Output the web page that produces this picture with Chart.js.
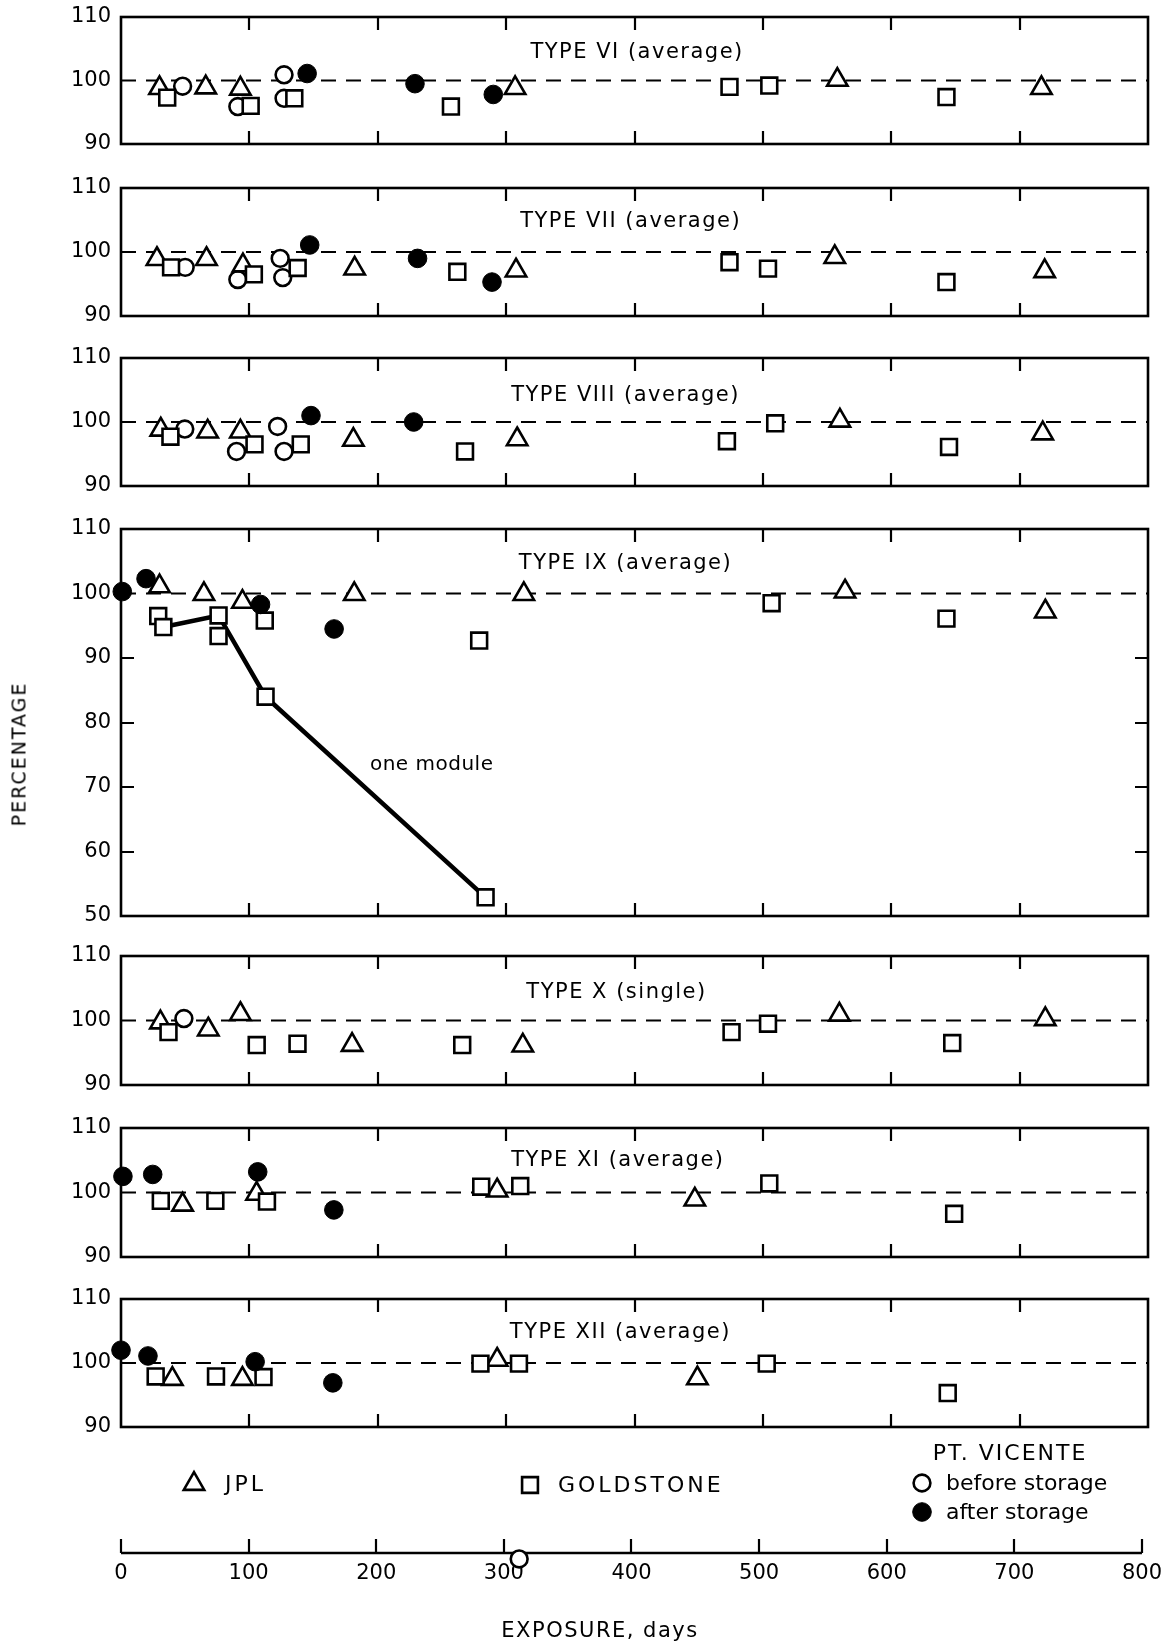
<!DOCTYPE html>
<html><head><meta charset="utf-8">
<script src="https://cdn.jsdelivr.net/npm/chart.js@4/dist/chart.umd.min.js"></script>
<style>
html,body{margin:0;padding:0;background:#fff;}
#page{position:relative;width:1170px;height:1642px;overflow:hidden;background:#fff;font-family:'DejaVu Sans',sans-serif;color:#000;}
#page canvas{position:absolute;left:0;}
.t{position:absolute;white-space:nowrap;line-height:1;}
</style></head><body><div id="page"></div>
<script>
// ---------------- DATA ----------------
const X_TICKS = [0,100,200,300,400,500,600,700,800];
const X_TICK_LABELS = ['0','100','200','300','400','500','600','700','800'];
const PANEL_TITLES = ['TYPE VI (average)','TYPE VII (average)','TYPE VIII (average)','TYPE IX (average)','TYPE X (single)','TYPE XI (average)','TYPE XII (average)'];
const SERIES_NAMES = ['JPL','GOLDSTONE','before storage','after storage'];
const Y_LABEL = 'PERCENTAGE';
const X_LABEL = 'EXPOSURE, days';
const LINE_LABEL = 'one module';

const VI_JPL    = [[30,98.8],[66,98.9],[93,98.7],[307,98.8],[558,100.1],[717,98.8]];
const VI_GOLD   = [[36,97.3],[101,96.0],[135,97.2],[257,95.9],[474,99.0],[505,99.2],[643,97.4]];
const VI_BEFORE = [[48,99.1],[91,95.9],[127,100.9],[127,97.2]];
const VI_AFTER  = [[145,101.1],[229,99.5],[290,97.8]];

const VII_JPL    = [[28,98.9],[66.6,98.9],[95,97.9],[182,97.4],[307.7,97.1],[556,99.2],[719.5,97.0]];
const VII_GOLD   = [[39,97.6],[103.5,96.5],[137.6,97.5],[262,96.9],[474,98.4],[504,97.4],[643,95.3]];
const VII_BEFORE = [[50,97.6],[91,95.7],[124,99.0],[126,96.0]];
const VII_AFTER  = [[147,101.1],[231,99.0],[289,95.3]];

const VIII_JPL    = [[31,98.8],[67.5,98.5],[93,98.5],[181,97.2],[308.6,97.3],[560,100.2],[718,98.2]];
const VIII_GOLD   = [[38.5,97.7],[104,96.5],[140,96.5],[268,95.4],[472,97.0],[509.6,99.8],[645,96.1]];
const VIII_BEFORE = [[49.7,98.9],[90,95.4],[122,99.3],[127,95.4]];
const VIII_AFTER  = [[148,101.0],[228,100.0]];

const IX_JPL    = [[30,101.1],[64.6,99.9],[94.6,98.7],[181.7,99.9],[313.8,99.9],[564,100.3],[720,97.2]];
const IX_GOLD   = [[29,96.5],[33,94.8],[76,96.6],[76,93.4],[112,95.8],[112.6,84.0],[279,92.7],[284,52.9],[506.8,98.5],[643,96.1]];
const IX_AFTER  = [[1,100.3],[19.5,102.3],[108.7,98.3],[166,94.5]];
const IX_ONE_MODULE = [[33,94.8],[76,96.6],[112.6,84.0],[284,52.9]];

const X_JPL    = [[30.7,99.7],[68,98.6],[93,101.0],[180,96.2],[313,96.1],[559.6,100.9],[720,100.2]];
const X_GOLD   = [[37,98.2],[105.7,96.2],[137.5,96.4],[265.8,96.2],[475.6,98.2],[504,99.5],[647.5,96.5]];
const X_BEFORE = [[49,100.3]];

const XI_JPL   = [[48,98.1],[105.6,99.8],[293,100.3],[447,98.9]];
const XI_GOLD  = [[31,98.7],[73.5,98.7],[113.7,98.6],[280.6,100.9],[311,101.0],[505,101.4],[649,96.7]];
const XI_AFTER = [[1.5,102.5],[24.7,102.8],[106.5,103.2],[165.8,97.3]];

const XII_JPL   = [[40,97.5],[94.6,97.5],[293,100.5],[449,97.6]];
const XII_GOLD  = [[27,97.9],[74,97.9],[111,97.8],[280,99.9],[310,99.9],[503,99.9],[644,95.3]];
const XII_AFTER = [[0,102.0],[21,101.1],[104.5,100.2],[165,96.9]];

const AXIS_STRAY_BEFORE = [[312,-0.18]];
const REFERENCE_LEVEL = 100;

// ---------------- LAYOUT ----------------
const PLOT_LEFT = 121, PLOT_RIGHT = 1148, W = 1170;
const FONT = "'DejaVu Sans', sans-serif";
const panels = [
  {title:0, top:17,  bottom:144, yMin:90, yMax:110, jpl:VI_JPL,  gold:VI_GOLD,  before:VI_BEFORE,  after:VI_AFTER,  tAt:[402,104.4]},
  {title:1, top:188, bottom:316, yMin:90, yMax:110, jpl:VII_JPL, gold:VII_GOLD, before:VII_BEFORE, after:VII_AFTER, tAt:[397,104.7]},
  {title:2, top:358, bottom:486, yMin:90, yMax:110, jpl:VIII_JPL,gold:VIII_GOLD,before:VIII_BEFORE,after:VIII_AFTER,tAt:[393,104.2]},
  {title:3, top:529, bottom:916, yMin:50, yMax:110, jpl:IX_JPL,  gold:IX_GOLD,  after:IX_AFTER, line:IX_ONE_MODULE, tAt:[393,104.6], yTicks:[60,70,80,90], lineLabelAt:[242,73.4]},
  {title:4, top:956, bottom:1085,yMin:90, yMax:110, jpl:X_JPL,   gold:X_GOLD,   before:X_BEFORE, tAt:[386,104.4]},
  {title:5, top:1128,bottom:1257,yMin:90, yMax:110, jpl:XI_JPL,  gold:XI_GOLD,  after:XI_AFTER, tAt:[387,104.9]},
  {title:6, top:1299,bottom:1427,yMin:90, yMax:110, jpl:XII_JPL, gold:XII_GOLD, after:XII_AFTER,tAt:[389,104.8]}
];

const MK = {
  jpl:    {pointStyle:'triangle', pointRadius:11.8, pointBackgroundColor:'#fff', pointBorderColor:'#000', pointBorderWidth:2.6},
  gold:   {pointStyle:'rect',     pointRadius:11.2, pointBackgroundColor:'#fff', pointBorderColor:'#000', pointBorderWidth:2.6},
  before: {pointStyle:'circle',   pointRadius:8.4,  pointBackgroundColor:'#fff', pointBorderColor:'#000', pointBorderWidth:2.6},
  after:  {pointStyle:'circle',   pointRadius:9.3,  pointBackgroundColor:'#000', pointBorderColor:'#000', pointBorderWidth:1}
};

const page = document.getElementById('page');
const toPts = a => a.map(([x,y]) => ({x,y}));

function scatterDs(arr, mk, order, label) {
  return Object.assign({label, data: toPts(arr), order, clip:false, showLine:false,
    pointHoverRadius: mk.pointRadius, pointHoverBorderWidth: mk.pointBorderWidth}, mk);
}

function framePlugin(p) {
  return {
    id:'frame'+p.title,
    beforeDatasetsDraw(chart) {
      const {ctx, chartArea:a, scales:{x,y}} = chart;
      ctx.save();
      ctx.strokeStyle='#000';
      ctx.lineWidth=2.6;
      ctx.strokeRect(a.left, a.top, a.right-a.left, a.bottom-a.top);
      ctx.lineWidth=2.2;
      ctx.beginPath();
      for (const v of X_TICKS.slice(1,-1)) {
        const px = Math.round(x.getPixelForValue(v));
        ctx.moveTo(px,a.top); ctx.lineTo(px,a.top+13);
        ctx.moveTo(px,a.bottom); ctx.lineTo(px,a.bottom-13);
      }
      for (const v of (p.yTicks||[])) {
        const py = Math.round(y.getPixelForValue(v));
        ctx.moveTo(a.left,py); ctx.lineTo(a.left+13,py);
        ctx.moveTo(a.right,py); ctx.lineTo(a.right-13,py);
      }
      ctx.stroke();
      ctx.fillStyle='#000';
      ctx.textAlign='center'; ctx.textBaseline='middle';
      ctx.font = '21px ' + FONT;
      try { ctx.letterSpacing = '1.5px'; } catch(e) {}
      ctx.fillText(PANEL_TITLES[p.title], x.getPixelForValue(p.tAt[0]), y.getPixelForValue(p.tAt[1]));
      if (p.lineLabelAt) {
        try { ctx.letterSpacing = '0.5px'; } catch(e) {}
        ctx.font = '20px ' + FONT;
        ctx.fillText(LINE_LABEL, x.getPixelForValue(p.lineLabelAt[0]), y.getPixelForValue(p.lineLabelAt[1]));
      }
      ctx.restore();
    }
  };
}

function makePanel(p) {
  const PAD = 24;
  const h = p.bottom - p.top + 2*PAD;
  const cv = document.createElement('canvas');
  cv.width = W; cv.height = h;
  cv.style.top = (p.top - PAD) + 'px';
  cv.style.width = W+'px'; cv.style.height = h+'px';
  page.appendChild(cv);
  const ds = [];
  ds.push({label:'ref', data:[{x:0,y:REFERENCE_LEVEL},{x:800,y:REFERENCE_LEVEL}], showLine:true, borderColor:'#000', borderWidth:2.2, borderDash:[15,10], pointRadius:0, pointHoverRadius:0, order:40, clip:false});
  if (p.line) ds.push({label:LINE_LABEL, data:toPts(p.line), showLine:true, borderColor:'#000', borderWidth:4.5, pointRadius:0, pointHoverRadius:0, order:30, tension:0, clip:false});
  if (p.before) ds.push(scatterDs(p.before, MK.before, 4, SERIES_NAMES[2]));
  if (p.jpl) ds.push(scatterDs(p.jpl, MK.jpl, 3, SERIES_NAMES[0]));
  if (p.gold) ds.push(scatterDs(p.gold, MK.gold, 2, SERIES_NAMES[1]));
  if (p.after) ds.push(scatterDs(p.after, MK.after, 1, SERIES_NAMES[3]));
  new Chart(cv, {
    type:'scatter',
    data:{datasets:ds},
    plugins:[framePlugin(p)],
    options:{
      responsive:false, animation:false, devicePixelRatio:1,
      events:[],
      layout:{padding:{left:0,right:W-PLOT_RIGHT,top:PAD,bottom:PAD}},
      plugins:{legend:{display:false}, tooltip:{enabled:false}},
      scales:{
        x:{type:'linear', min:0, max:800, display:false},
        y:{type:'linear', min:p.yMin, max:p.yMax,
           afterFit(s){ s.width = PLOT_LEFT; },
           grid:{display:false, drawTicks:false}, border:{display:false},
           ticks:{stepSize:10, color:'#000', font:{family:FONT, size:21}, padding:10}}
      }
    }
  });
}
panels.forEach(makePanel);

// ---------------- BOTTOM AXIS + LEGEND ----------------
const B_TOP = 1440, B_H = 202, AXIS_Y = 1553;
const LEG = {jpl:[194,1484], gold:[530,1485], before:[922,1483], after:[922,1512]};
function drawGlyph(ctx, kind, cx, cy) {
  const m = MK[kind];
  ctx.save();
  ctx.lineWidth = m.pointBorderWidth; ctx.strokeStyle = '#000'; ctx.fillStyle = m.pointBackgroundColor;
  if (Chart.helpers && Chart.helpers.drawPoint) {
    Chart.helpers.drawPoint(ctx, {pointStyle:m.pointStyle, radius:m.pointRadius, borderWidth:m.pointBorderWidth, rotation:0}, cx, cy);
  }
  ctx.restore();
}
const bottomPlugin = {
  id:'bottomAxis',
  beforeDatasetsDraw(chart) {
    const {ctx, chartArea:a, scales:{x}} = chart;
    ctx.save();
    ctx.strokeStyle='#000'; ctx.lineWidth=2.6;
    ctx.beginPath();
    ctx.moveTo(x.getPixelForValue(0), a.bottom); ctx.lineTo(x.getPixelForValue(800), a.bottom);
    ctx.stroke();
    ctx.lineWidth=2.2;
    ctx.beginPath();
    for (const v of X_TICKS) { const px = Math.round(x.getPixelForValue(v)); ctx.moveTo(px,a.bottom); ctx.lineTo(px,a.bottom-14); }
    ctx.stroke();
    ctx.restore();
    for (const k of Object.keys(LEG)) drawGlyph(ctx, k, LEG[k][0], LEG[k][1]-B_TOP);
  }
};
(function(){
  const cv = document.createElement('canvas');
  cv.width=W; cv.height=B_H; cv.style.top=B_TOP+'px'; cv.style.width=W+'px'; cv.style.height=B_H+'px';
  page.appendChild(cv);
  new Chart(cv, {
    type:'scatter',
    data:{datasets:[scatterDs(AXIS_STRAY_BEFORE, MK.before, 1, SERIES_NAMES[2])]},
    plugins:[bottomPlugin],
    options:{
      responsive:false, animation:false, devicePixelRatio:1, events:[],
      layout:{padding:{left:PLOT_LEFT,right:W-PLOT_RIGHT,top:80,bottom:0}},
      plugins:{legend:{display:false}, tooltip:{enabled:false}},
      scales:{
        x:{type:'linear', min:0, max:800, afterFit(s){ s.height = 1642 - AXIS_Y; },
           afterBuildTicks(s){ s.ticks = X_TICKS.map(v => ({value:v})); },
           grid:{display:false, drawTicks:false}, border:{display:false},
           ticks:{color:'#000', font:{family:FONT, size:21}, padding:8, maxRotation:0, autoSkip:false,
                  callback:(v,i)=>X_TICK_LABELS[i]}},
        y:{type:'linear', min:0, max:1, display:false}
      }
    }
  });
})();

// ---------------- HTML TEXT ----------------
function addText(txt, css) {
  const d = document.createElement('div'); d.className='t'; d.textContent=txt;
  Object.assign(d.style, css); page.appendChild(d);
}
addText(Y_LABEL, {left:'19px', top:'754px', fontSize:'19px', letterSpacing:'2px', transform:'translate(-50%,-50%) rotate(-90deg)'});
addText(X_LABEL, {left:'600px', top:'1630px', fontSize:'21px', letterSpacing:'1.5px', transform:'translate(-50%,-50%)'});
addText(SERIES_NAMES[0], {left:'225px', top:'1484px', fontSize:'22px', letterSpacing:'3px', transform:'translateY(-50%)'});
addText(SERIES_NAMES[1], {left:'558px', top:'1485px', fontSize:'22px', letterSpacing:'3px', transform:'translateY(-50%)'});
addText('PT. VICENTE', {left:'1010px', top:'1453px', fontSize:'22px', letterSpacing:'2px', transform:'translate(-50%,-50%)'});
addText(SERIES_NAMES[2], {left:'946px', top:'1483px', fontSize:'22px', transform:'translateY(-50%)'});
addText(SERIES_NAMES[3], {left:'946px', top:'1512px', fontSize:'22px', transform:'translateY(-50%)'});
</script>
</body></html>
